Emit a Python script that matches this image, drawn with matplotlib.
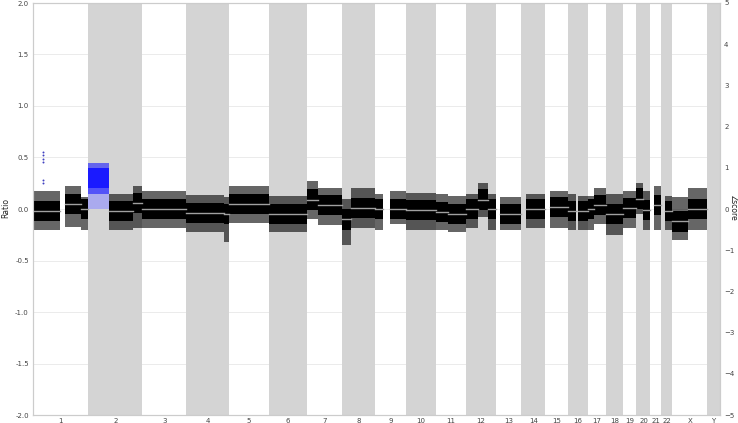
import matplotlib
matplotlib.use("Agg")
import matplotlib.pyplot as plt
import numpy as np

# chromosome names and lengths (Mb, hg19)
chrom_names = [str(i) for i in range(1, 23)] + ["X", "Y"]
chrom_len = [249, 243, 198, 191, 181, 171, 159, 146, 141, 136, 135, 134,
             115, 107, 103, 90, 81, 78, 59, 63, 48, 51, 155, 59]

# segments: chromosome, start, end (Mb), level, cloud low / high
seg_chrom = ["1", "1", "1", "2", "2", "3", "4", "4", "5", "6", "7", "7",
             "8", "8", "9", "9", "10", "11", "11", "12", "12", "12", "13", "14",
             "15", "16", "16", "17", "17", "18", "19", "20", "20", "21", "22", "X", "X"]
seg_start = [0, 144, 215, 95, 203, 0, 0, 170, 0, 0, 0, 50,
             0, 40, 0, 70, 0, 0, 55, 0, 55, 100, 19, 19,
             20, 0, 46, 0, 25, 0, 0, 0, 30, 15, 17, 0, 70]
seg_end = [121, 215, 249, 203, 243, 198, 170, 191, 181, 171, 50, 159,
           40, 146, 38, 141, 136, 55, 135, 55, 100, 134, 115, 107,
           103, 36, 90, 25, 81, 78, 59, 28, 63, 48, 51, 70, 155]
seg_level = [-0.02, 0.05, 0.0, -0.02, 0.06, 0.0, -0.04, -0.05, 0.05, -0.05, 0.09, 0.04,
             -0.10, 0.01, 0.0, 0.0, -0.01, -0.03, -0.05, 0.0, 0.09, 0.0, -0.05, 0.0,
             0.02, -0.02, -0.02, 0.0, 0.04, -0.05, 0.01, 0.10, -0.01, 0.04, -0.02, -0.12, 0.0]
seg_low = [-0.20, -0.17, -0.20, -0.20, -0.18, -0.18, -0.22, -0.32, -0.14, -0.22, -0.10, -0.16,
           -0.35, -0.18, -0.20, -0.15, -0.20, -0.20, -0.22, -0.18, -0.08, -0.20, -0.20, -0.18,
           -0.18, -0.20, -0.20, -0.20, -0.15, -0.25, -0.18, -0.05, -0.20, -0.20, -0.20, -0.30, -0.20]
seg_high = [0.17, 0.22, 0.12, 0.15, 0.22, 0.17, 0.14, 0.12, 0.22, 0.13, 0.27, 0.20,
            0.10, 0.20, 0.15, 0.17, 0.16, 0.15, 0.13, 0.15, 0.25, 0.15, 0.12, 0.15,
            0.17, 0.15, 0.13, 0.13, 0.20, 0.15, 0.17, 0.25, 0.17, 0.22, 0.13, 0.12, 0.20]
core_half = 0.10

# gained segment on chr2 (blue)
gain_chrom = "2"
gain_start, gain_end = 0, 95
gain_level = 0.30
gain_low, gain_high = 0.15, 0.45
gain_core_low, gain_core_high = 0.20, 0.40

# few isolated points on chr1
outlier_pos = [45, 45, 45, 45, 45, 45]
outlier_val = [0.55, 0.52, 0.49, 0.46, 0.28, 0.25]

ratio_ticks = [-2.0, -1.5, -1.0, -0.5, 0.0, 0.5, 1.0, 1.5, 2.0]
z_ticks = [-5, -4, -3, -2, -1, 0, 1, 2, 3, 4, 5]

offsets = dict(zip(chrom_names, np.concatenate([[0], np.cumsum(chrom_len)[:-1]])))
total = sum(chrom_len)

fig = plt.figure(figsize=(7.38, 4.23), dpi=100)
ax = fig.add_axes([33 / 738, 8 / 423, 687 / 738, 412 / 423])

for y in ratio_ticks:
    ax.axhline(y, color="#e8e8e8", lw=0.6, zorder=0)

# alternating chromosome bands
centers = []
for i, name in enumerate(chrom_names):
    x0 = offsets[name]
    centers.append(x0 + chrom_len[i] / 2)
    if i % 2 == 1:
        ax.axvspan(x0, x0 + chrom_len[i], color="#d4d4d4", lw=0, zorder=1)

# copy-number clouds: sparse outer part, dense core, segment line
for c, s, e, lv, lo, hi in zip(seg_chrom, seg_start, seg_end, seg_level, seg_low, seg_high):
    xs = [offsets[c] + s, offsets[c] + e]
    ax.fill_between(xs, [lo, lo], [hi, hi], color="black", alpha=0.6, lw=0, zorder=2)
    ax.fill_between(xs, [lv - core_half] * 2, [lv + core_half] * 2,
                    color="black", lw=0, zorder=3)
    ax.plot(xs, [lv, lv], color="#a0a0a0", lw=1, zorder=4)

gx = [offsets[gain_chrom] + gain_start, offsets[gain_chrom] + gain_end]
ax.fill_between(gx, [0, 0], [gain_level] * 2, color="#aaaaee", lw=0, zorder=2)
ax.fill_between(gx, [gain_low] * 2, [gain_high] * 2, color="#1a1aff", alpha=0.6,
                lw=0, zorder=3)
ax.fill_between(gx, [gain_core_low] * 2, [gain_core_high] * 2, color="#1a1aff", lw=0, zorder=3)

ax.scatter(np.array(outlier_pos) + offsets["1"], outlier_val, s=2, color="#4040c0",
           lw=0, zorder=5)

ax.set_xlim(0, total)
ax.set_ylim(-2.0, 2.0)
ax.set_xticks(centers)
ax.set_xticklabels(chrom_names)
ax.set_yticks(ratio_ticks)
ax.set_yticklabels([f"{t:.1f}" for t in ratio_ticks])
ax.tick_params(axis="both", length=0, labelsize=5, colors="#444444")
ax.tick_params(axis="x", pad=2)
ax.tick_params(axis="y", pad=3)

ax2 = ax.twinx()
ax2.set_ylim(-5, 5)
ax2.set_yticks(z_ticks)
ax2.tick_params(axis="y", length=0, labelsize=5, colors="#444444", pad=3)

# axis titles placed by hand so they stay inside the canvas
fig.text(5.5 / 738, 1 - 208 / 423, "Ratio", fontsize=5.5, color="#222222",
         rotation=90, ha="center", va="center")
fig.text(733 / 738, 1 - 208 / 423, "Zscore", fontsize=5.5, color="#222222",
         rotation=-90, ha="center", va="center")

for a in (ax, ax2):
    for sp in a.spines.values():
        sp.set_color("#cccccc")
        sp.set_linewidth(0.8)

fig.savefig("out.png", dpi=100)
